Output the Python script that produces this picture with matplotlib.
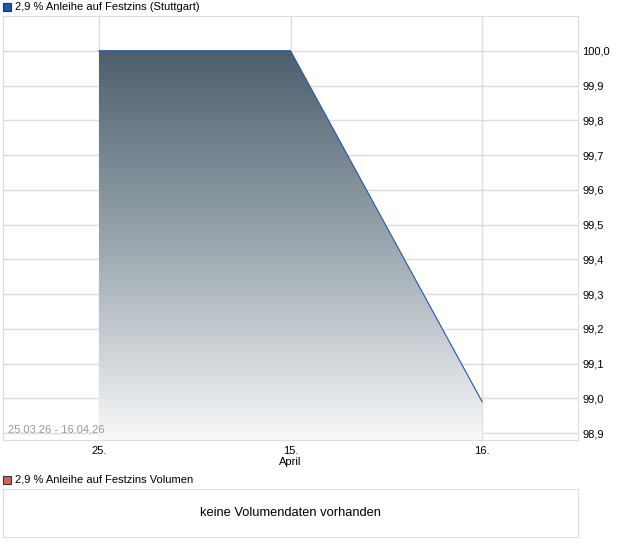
import numpy as np
import matplotlib.pyplot as plt
from matplotlib.colors import LinearSegmentedColormap
from matplotlib.patches import Polygon, Rectangle

# Kursdaten (Handelstage)
tage = ["25.", "15.", "16."]
monat = ["", "April", ""]
kurse = [100.0, 100.0, 98.99]
y_ticks = [98.9, 99.0, 99.1, 99.2, 99.3, 99.4, 99.5, 99.6, 99.7, 99.8, 99.9, 100.0]

W, H = 620, 546
fig = plt.figure(figsize=(W / 100, H / 100), dpi=100)
plt.rcParams['font.family'] = ['Liberation Sans', 'DejaVu Sans']

def box(x0, y0, x1, y1):
    return [x0 / W, 1 - y1 / H, (x1 - x0) / W, (y1 - y0) / H]

ax = fig.add_axes(box(3, 16, 578, 440))
x = np.arange(len(kurse))
ymin, ymax = 98.88, 100.10
ax.set_xlim(-0.5, 2.5)
ax.set_ylim(ymin, ymax)

# Verlaufsfüllung unter der Kurve
cmap = LinearSegmentedColormap.from_list("g", ["#f7f8f9", "#9ba7af", "#4c5f6d"])
grad = np.linspace(0, 1, 256).reshape(-1, 1)
top = max(kurse)
im = ax.imshow(grad, cmap=cmap, aspect='auto', origin='lower',
               extent=[x[0], x[-1], ymin, top], zorder=2)
poly = Polygon(np.column_stack([np.r_[x, x[-1], x[0]], np.r_[kurse, ymin, ymin]]),
               closed=True, transform=ax.transData, facecolor='none', edgecolor='none')
ax.add_patch(poly)
im.set_clip_path(poly)
ax.plot(x, kurse, color='#1f55b5', lw=0.8, zorder=3)

ax.set_yticks(y_ticks)
ax.set_yticklabels([f"{v:.1f}".replace('.', ',') for v in y_ticks], fontsize=8)
ax.yaxis.tick_right()
ax.set_xticks(x)
ax.set_xticklabels([t + ("\n" + m if m else "") for t, m in zip(tage, monat)], fontsize=8,
                   linespacing=1.15)
ax.tick_params(length=0, pad=4, colors='#000000')
ax.tick_params(axis='y', pad=3)
ax.grid(True, color='#dddddd', lw=1, zorder=0)
ax.set_axisbelow(True)
for s in ax.spines.values():
    s.set_color('#dddddd')

ax.text(0.008, 0.012, "25.03.26 - 16.04.26", transform=ax.transAxes, fontsize=8,
        color='#999999', ha='left', va='bottom', zorder=4)

# Legenden
fig.patches.append(Rectangle((3 / W, 1 - 11 / H), 8 / W, 8 / H, transform=fig.transFigure,
                             facecolor='#1f55b5', edgecolor='#333333', lw=0.8))
fig.text(15 / W, 1 - 7 / H, "2,9 % Anleihe auf Festzins (Stuttgart)", fontsize=8,
         va='center', ha='left')
fig.patches.append(Rectangle((3 / W, 1 - 484 / H), 8 / W, 8 / H, transform=fig.transFigure,
                             facecolor='#d9605a', edgecolor='#333333', lw=0.8))
fig.text(15 / W, 1 - 480 / H, "2,9 % Anleihe auf Festzins Volumen", fontsize=8,
         va='center', ha='left')

# Volumenfeld
ax2 = fig.add_axes(box(3, 489, 578, 537))
ax2.set_xticks([])
ax2.set_yticks([])
for s in ax2.spines.values():
    s.set_color('#dddddd')
ax2.text(0.5, 0.5, "keine Volumendaten vorhanden", transform=ax2.transAxes,
         ha='center', va='center', fontsize=9.3)

fig.savefig("out.png", dpi=100)
